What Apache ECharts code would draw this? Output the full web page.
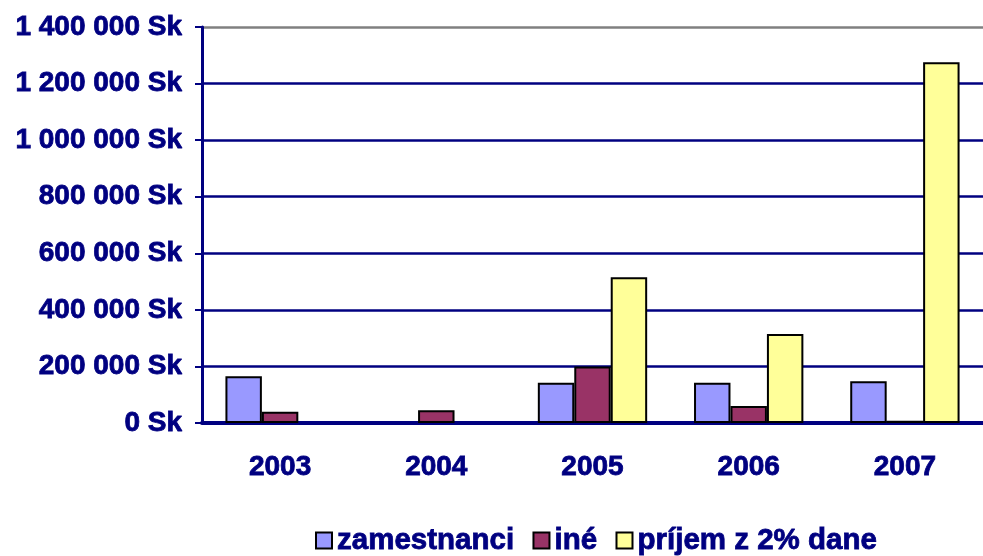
<!DOCTYPE html>
<html>
<head>
<meta charset="utf-8">
<script src="https://cdn.jsdelivr.net/npm/echarts@6/dist/echarts.min.js"></script>
<style>
  html, body { margin: 0; padding: 0; background: #fff; }
  #chart { width: 983px; height: 556px; }
</style>
</head>
<body>
<div id="chart"></div>
<script>
var years = ['2003', '2004', '2005', '2006', '2007'];
var zamestnanci = [165000, null, 142000, 142000, 148000];
var ine = [40000, 45000, 200000, 60000, 8000];
var prijem = [null, null, 515000, 315000, 1275000];
var seriesNames = ['zamestnanci', 'iné', 'príjem z 2% dane'];
var seriesColors = ['#9999FF', '#993366', '#FFFF99'];

var navy = '#000080';
var font = 'Liberation Sans';

function skLabel(v) {
    var s = String(v).replace(/\B(?=(\d{3})+(?!\d))/g, ' ');
    return s + ' Sk';
}

function barSeries(name, color, data) {
    return {
        name: name,
        type: 'bar',
        barGap: '0%',
        barCategoryGap: '30%',
        itemStyle: {
            color: color,
            borderColor: '#000',
            borderWidth: 2
        },
        data: data
    };
}

// heavier text, the original is a chunky bold
var txt = {
    color: navy,
    fontFamily: font,
    fontWeight: 'bold',
    fontSize: 28,
    textBorderColor: navy,
    textBorderWidth: 0.8
};

var legendData = seriesNames.map(function (n, i) {
    return {
        name: n,
        icon: 'rect',
        itemStyle: { color: seriesColors[i], borderColor: '#000', borderWidth: 2 }
    };
});

var chart = echarts.init(document.getElementById('chart'));

var option = {
    animation: false,
    backgroundColor: '#fff',
    grid: {
        left: 202,
        top: 27,
        width: 790,
        height: 396,
        containLabel: false
    },
    legend: {
        data: legendData,
        bottom: 0,
        left: 310,
        padding: [0, 5, 0, 5],
        itemWidth: 16,
        itemHeight: 16,
        itemGap: 18,
        textStyle: Object.assign({}, txt, { fontSize: 29.5 })
    },
    xAxis: {
        type: 'category',
        data: years,
        axisLine: { lineStyle: { color: navy, width: 4 } },
        axisTick: { length: 11, lineStyle: { color: navy, width: 3 } },
        axisLabel: Object.assign({ margin: 30 }, txt)
    },
    yAxis: {
        type: 'value',
        min: 0,
        max: 1400000,
        interval: 200000,
        axisLine: { show: true, lineStyle: { color: navy, width: 3 } },
        axisTick: { show: true, length: 7, lineStyle: { color: navy, width: 2 } },
        splitLine: {
            lineStyle: {
                color: [navy, navy, navy, navy, navy, navy, navy, '#808080'],
                width: 2.5
            }
        },
        axisLabel: Object.assign({ margin: 20, formatter: skLabel }, txt)
    },
    series: [
        barSeries(seriesNames[0], seriesColors[0], zamestnanci),
        barSeries(seriesNames[1], seriesColors[1], ine),
        barSeries(seriesNames[2], seriesColors[2], prijem)
    ]
};

chart.setOption(option);
</script>
</body>
</html>
